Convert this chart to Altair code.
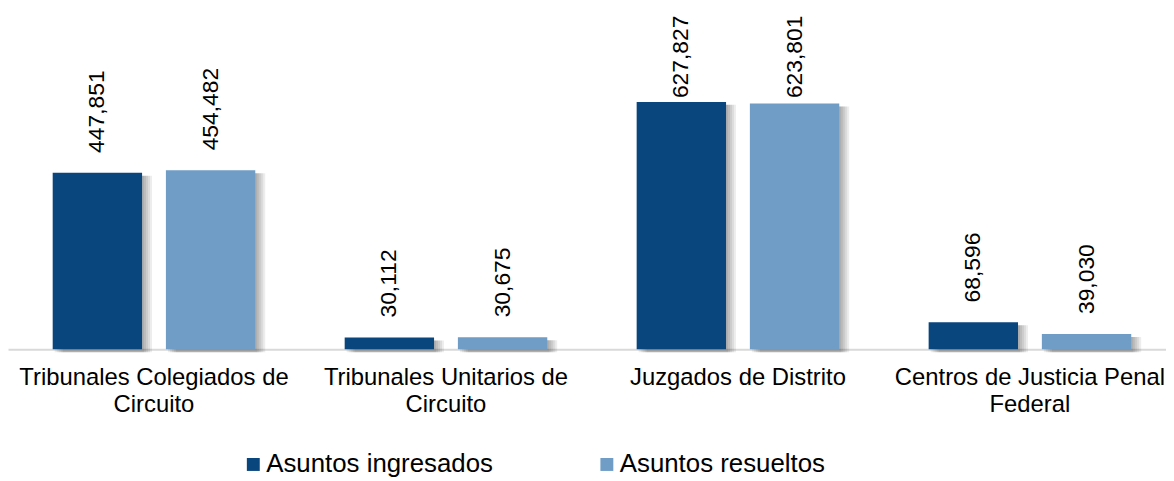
import altair as alt
import pandas as pd

categories = [
    "Tribunales Colegiados de Circuito",
    "Tribunales Unitarios de Circuito",
    "Juzgados de Distrito",
    "Centros de Justicia Penal Federal",
]
label_lines = [
    ["Tribunales Colegiados de", "Circuito"],
    ["Tribunales Unitarios de", "Circuito"],
    ["Juzgados de Distrito"],
    ["Centros de Justicia Penal", "Federal"],
]
series = ["Asuntos ingresados", "Asuntos resueltos"]
ingresados = [447851, 30112, 627827, 68596]
resueltos = [454482, 30675, 623801, 39030]
colors = ["#0A467E", "#6F9DC6"]

rows = []
for c, a, b in zip(categories, ingresados, resueltos):
    rows.append({"categoria": c, "serie": series[0], "valor": a})
    rows.append({"categoria": c, "serie": series[1], "valor": b})
df = pd.DataFrame(rows)

FONT = "Liberation Sans"

# multi-line axis labels
expr = "''"
for c, lines in reversed(list(zip(categories, label_lines))):
    arr = "[" + ",".join("'" + l + "'" for l in lines) + "]"
    expr = f"datum.value == '{c}' ? {arr} : ({expr})"

x = alt.X(
    "categoria:N",
    sort=categories,
    scale=alt.Scale(domain=categories, paddingInner=0, paddingOuter=0),
    axis=alt.Axis(
        title=None, labelAngle=0, ticks=False, labelPadding=16,
        labelFontSize=24, labelLineHeight=28, labelFont=FONT, labelColor="#000",
        labelExpr=expr, labelLimit=0, domainColor="#d9d9d9", domainWidth=2,
        labelBaseline="top",
    ),
)
yscale = alt.Scale(domain=[0, 862000])
y = alt.Y("valor:Q", scale=yscale, axis=None)
color = alt.Color(
    "serie:N",
    scale=alt.Scale(domain=series, range=colors),
    legend=alt.Legend(
        title=None, orient="none", legendX=234, legendY=445, direction="horizontal",
        symbolType="square", symbolSize=169, symbolStrokeWidth=0, labelFontSize=26,
        labelFont=FONT, labelColor="#000", columnPadding=101, labelOffset=0, padding=0,
        labelLimit=0,
    ),
)

offsets = [-57, 57]
layers = []
for s, off in zip(series, offsets):
    base = alt.Chart(df).transform_filter(alt.datum.serie == s)
    for k in [2, 4, 6, 8, 10]:
        layers.append(
            base.mark_bar(width=90, xOffset=off + k, yOffset=3, color="#000", opacity=0.07)
            .encode(x=x, y=y)
        )
for s, off in zip(series, offsets):
    base = alt.Chart(df).transform_filter(alt.datum.serie == s)
    layers.append(base.mark_bar(width=90, xOffset=off).encode(x=x, y=y, color=color))
    layers.append(
        base.transform_calculate(label_y="min(datum.valor, 587000)")
        .mark_text(angle=270, align="left", baseline="middle", dx=20, xOffset=off,
                   fontSize=23, font=FONT, color="#000")
        .encode(x=x, y=alt.Y("label_y:Q", scale=yscale, axis=None),
                text=alt.Text("valor:Q", format=",d"))
    )

chart = (
    alt.layer(*layers)
    .properties(
        width=1176, height=342,
        autosize=alt.AutoSizeParams(type="none"),
        padding={"left": 0, "top": 0, "right": -10, "bottom": 131},
    )
    .configure_view(stroke=None)
)
chart.save("out.html", embed_options={"renderer": "svg", "actions": False})
